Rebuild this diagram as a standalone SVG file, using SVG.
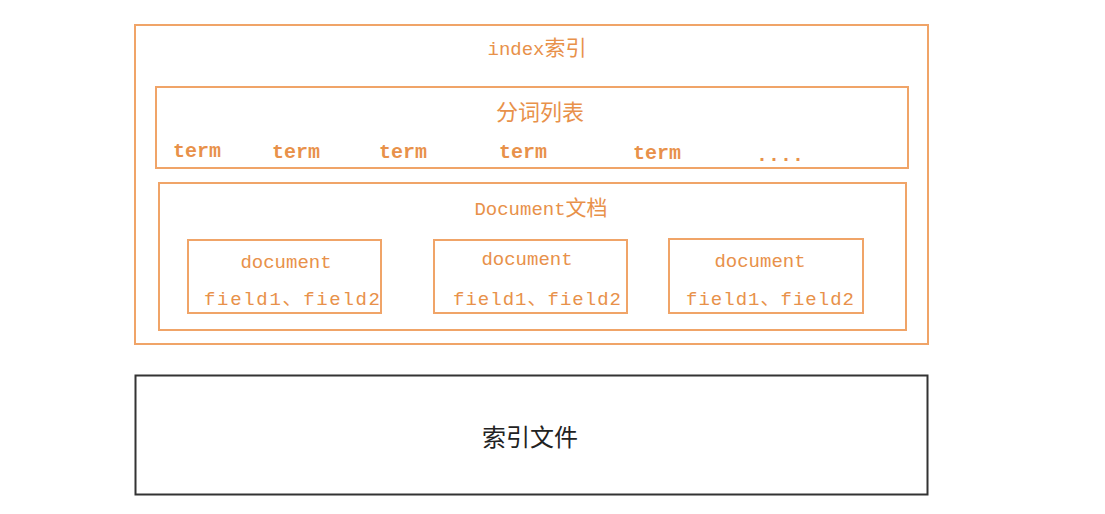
<svg xmlns="http://www.w3.org/2000/svg" width="1105" height="514" viewBox="0 0 1105 514">
<style>
.box{fill:none;stroke:#F0A468;stroke-width:2}
.t{fill:#E8914A;font-family:"Liberation Mono","Noto Sans CJK SC",monospace;font-size:19px}
.term{font-size:20px;font-weight:bold}
.cjk{fill:#E8914A;font-family:"Noto Sans CJK SC",sans-serif;font-size:22px}
</style>
<rect width="1105" height="514" fill="#ffffff"/>
<g id="index">
<rect class="box" x="135" y="25" width="793" height="319"/>
<text class="t" x="537" y="55" text-anchor="middle">index<tspan font-family="Noto Sans CJK SC, sans-serif" font-size="21">索引</tspan></text>
</g>
<g id="terms">
<rect class="box" x="156" y="87" width="752" height="81"/>
<text class="cjk" x="540" y="120" text-anchor="middle">分词列表</text>
<text class="t term" x="173" y="157">term</text>
<text class="t term" x="272" y="158">term</text>
<text class="t term" x="379" y="158">term</text>
<text class="t term" x="499" y="158">term</text>
<text class="t term" x="633" y="159">term</text>
<text class="t term" x="756" y="161">....</text>
</g>
<g id="documents">
<rect class="box" x="159" y="183" width="747" height="147"/>
<text class="t" x="541" y="215" text-anchor="middle">Document<tspan font-family="Noto Sans CJK SC, sans-serif" font-size="21">文档</tspan></text>
</g>
<g id="doc1">
<rect class="box" x="188" y="240" width="193" height="73"/>
<text class="t" x="286" y="268" text-anchor="middle">document</text>
<text class="t" x="292" y="305" text-anchor="middle" textLength="176">field1、field2</text>
</g>
<g id="doc2">
<rect class="box" x="434" y="240" width="193" height="73"/>
<text class="t" x="527" y="265" text-anchor="middle">document</text>
<text class="t" x="537" y="305" text-anchor="middle" textLength="168">field1、field2</text>
</g>
<g id="doc3">
<rect class="box" x="669" y="239" width="194" height="74"/>
<text class="t" x="760" y="267" text-anchor="middle">document</text>
<text class="t" x="770" y="305" text-anchor="middle" textLength="168">field1、field2</text>
</g>
<g id="indexfile">
<rect x="135.5" y="375.5" width="792" height="119" fill="#ffffff" stroke="#333333" stroke-width="2"/>
<text x="530" y="446" text-anchor="middle" font-family="Noto Sans CJK SC, sans-serif" font-size="24" fill="#222222">索引文件</text>
</g>
<g id="connectors"/>
</svg>
